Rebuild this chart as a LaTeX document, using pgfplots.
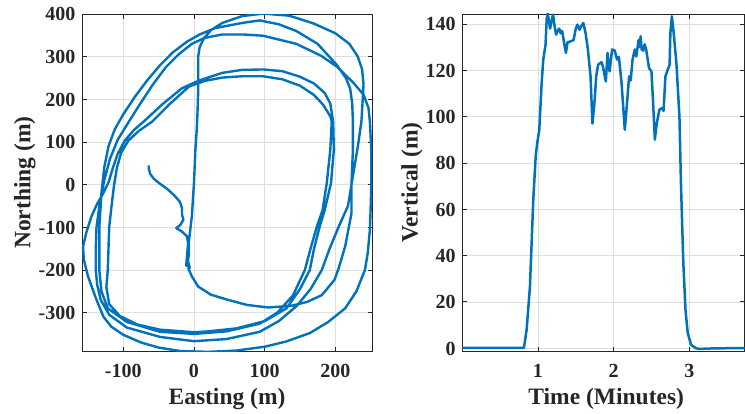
\documentclass[border=0pt]{standalone}
\usepackage{pgfplots}
\pgfplotsset{compat=1.18}
\usepackage{fontspec}
\setmainfont{Liberation Serif}
\definecolor{mblue}{RGB}{0,114,189}
\definecolor{axcol}{RGB}{38,38,38}
\definecolor{gridcol}{RGB}{223,223,223}
\pgfplotsset{
  mystyle/.style={
    scale only axis,
    anchor=south west,
    tick align=inside,
    major tick length=4.5pt,
    axis line style={color=axcol, line width=0.8pt},
    every tick/.style={color=axcol, line width=0.8pt},
    grid=major,
    major grid style={color=gridcol, line width=0.7pt},
    tick label style={font=\fontsize{20}{24}\selectfont\bfseries, text=axcol},
    xticklabel style={anchor=base, inner sep=0pt, yshift=-26.5pt},
    yticklabel style={anchor=base east, inner sep=0pt, xshift=-6.5pt, yshift=-6.8pt},
    label style={font=\fontsize{23.5}{28}\selectfont\bfseries, text=axcol},
  }
}
\begin{document}
\begin{tikzpicture}
\useasboundingbox (0,0) rectangle (745pt,413pt);
\begin{axis}[mystyle,
  at={(82pt,62pt)}, width=290pt, height=337pt,
  xmin=-158.5, xmax=252, ymin=-390, ymax=400,
  xtick={-100,0,100,200}, xticklabels={-100,0,100,200},
  ytick={-300,-200,-100,0,100,200,300,400},
  yticklabels={-300,-200,-100,0,100,200,300,400},
  xlabel={Easting (m)}, ylabel={Northing (m)},
  xlabel style={at={(axis description cs:0.5,-0.159)}, anchor=base},
  ylabel style={at={(axis description cs:-0.178,0.5)}, anchor=base},
]
\addplot[mblue, line width=2.4pt, line join=round] coordinates {
(-64,45) (-64,38) (-62,25) (-57,14) (-48,2) (-38,-10) (-28,-25) (-20,-40) (-17,-55) (-17,-70) (-15,-82) (-19,-94) (-25,-102) (-17,-110) (-10,-121) (-8,-140) (-7,-160) (-9,-185) (-6,-195) (-10,-170) (-8,-130) (-11,-190) (-7,-192)
(-9,-180) (-7,-130) (-3,-74) (0,4) (2,82) (4,130) (5,170) (6,220) (6,260) (6,300) (8,322) (14,343) (24,362) (40,379) (68,395) (98,401) (135,396) (169,378) (200,355) (220,330) (232,300) (238,270) (240,235) (239,203) (237,148) (232,90) (227,40) (223,0) (218,-50) (205,-98) (192,-150) (181,-200) (165,-245) (145,-285) (120,-320) (93,-345) (46,-362) (0,-367) (-48,-357) (-95,-335) (-120,-305) (-132,-270) (-137,-235) (-139,-200) (-139,-150) (-138,-100) (-133,-40) (-127,10) (-119,60) (-108,105) (-92,148) (-76,190) (-58,235) (-40,275) (-22,305) (-3,330) (15,344) (40,352) (70,352) (98,349) (145,330) (180,302) (202,277) (225,240) (240,211) (247,180) (249,148) (251,82) (251,0) (250,-60) (249,-106) (246,-160) (242,-200) (230,-250) (214,-290) (190,-322) (164,-348) (130,-368) (100,-380) (60,-389) (20,-392) (-20,-390) (-50,-382) (-75,-370) (-100,-352) (-117,-333) (-128,-310) (-138,-270) (-150,-215) (-156,-175) (-157,-145) (-152,-110) (-145,-74) (-137,-45) (-129,-22) (-121,5) (-115,38) (-108,72) (-98,103) (-85,128) (-71,148) (-45,188) (-17,226) (7,244) (40,262) (68,269) (98,270) (125,266) (150,253) (170,237) (185,215) (193,190) (197,148) (198,82) (194,4) (185,-60) (178,-98) (170,-150) (164,-200) (150,-245) (131,-290) (100,-320) (60,-337) (20,-344) (0,-346) (-48,-340) (-80,-328) (-105,-308) (-120,-280) (-124,-240) (-122,-200) (-120,-100) (-116,-40) (-113,0) (-109,40) (-103,75) (-93,103) (-78,126) (-59,148) (-35,188) (-7,230) (15,243) (40,251) (68,254) (98,254) (125,247) (150,232) (170,210) (183,187) (193,160) (195,148) (193,82) (188,4) (182,-60) (174,-98) (165,-150) (157,-200) (140,-260) (118,-300) (93,-326) (46,-344) (0,-350) (-48,-345) (-95,-322) (-122,-290) (-131,-250) (-134,-200) (-134,-100) (-131,-20) (-127,40) (-121,90) (-112,130) (-100,165) (-84,205) (-66,245) (-48,280) (-30,310) (-10,335) (8,352) (30,367) (68,379) (93,385) (120,376) (145,360) (175,330) (202,281) (215,250) (221,226) (224,190) (225,148) (225,82) (223,4) (223,-67) (214,-145) (205,-195) (199,-223) (181,-259) (160,-275) (138,-284) (105,-288) (75,-282) (48,-270) (24,-258) (6,-239) (-3,-215) (-7,-200) (-8,-195)
};
\end{axis}
\begin{axis}[mystyle,
  at={(462.3pt,62pt)}, width=282.2pt, height=337pt,
  xmin=0, xmax=3.73, ymin=-1.2, ymax=144.3,
  xtick={1,2,3}, xticklabels={1,2,3},
  ytick={0,20,40,60,80,100,120,140},
  yticklabels={0,20,40,60,80,100,120,140},
  xlabel={Time (Minutes)}, ylabel={Vertical (m)},
  xlabel style={at={(axis description cs:0.51,-0.159)}, anchor=base},
  ylabel style={at={(axis description cs:-0.158,0.5)}, anchor=base},
]
\addplot[mblue, line width=2.5pt, line join=round] coordinates {
(0,0.2) (0.4,0.2) (0.815,0.2) (0.85,7.9) (0.894,26.6) (0.938,64) (0.97,82.8) (0.99,88.6) (1.017,94) (1.049,114.5) (1.07,124.6) (1.1,131) (1.115,141.9) (1.13,145) (1.145,141) (1.16,138) (1.19,143) (1.2,144) (1.22,139) (1.24,135.4) (1.26,137) (1.28,138) (1.3,136) (1.32,137) (1.35,131) (1.37,127.5) (1.39,132) (1.43,132.5) (1.47,133) (1.5,138) (1.52,139.7) (1.55,137.5) (1.57,139) (1.6,140.4) (1.63,136) (1.66,129) (1.695,117.4) (1.72,97) (1.75,107.3) (1.77,117.4) (1.795,122.4) (1.84,123.5) (1.86,121.5) (1.88,118) (1.897,115.2) (1.92,127.5) (1.935,122) (1.947,119.5) (1.98,129) (2.015,128.5) (2.046,124.6) (2.07,125.8) (2.105,114.5) (2.148,94.3) (2.17,103) (2.205,117.4) (2.226,115.6) (2.25,124.6) (2.28,129) (2.3,126) (2.33,133) (2.345,130) (2.357,134.7) (2.37,129) (2.39,128.5) (2.41,131.2) (2.43,129) (2.468,121) (2.5,119.5) (2.52,107.3) (2.545,90) (2.57,97) (2.605,103) (2.64,103.7) (2.66,102.5) (2.685,117.4) (2.716,120.3) (2.74,122.4) (2.75,136) (2.77,143.3) (2.79,137.5) (2.83,123) (2.87,100) (2.89,71.3) (2.92,38) (2.95,16.5) (2.98,6.5) (3.025,1.4) (3.09,0) (3.13,-0.3) (3.3,-0.1) (3.5,0) (3.73,0.1)
};
\end{axis}
\end{tikzpicture}
\end{document}
